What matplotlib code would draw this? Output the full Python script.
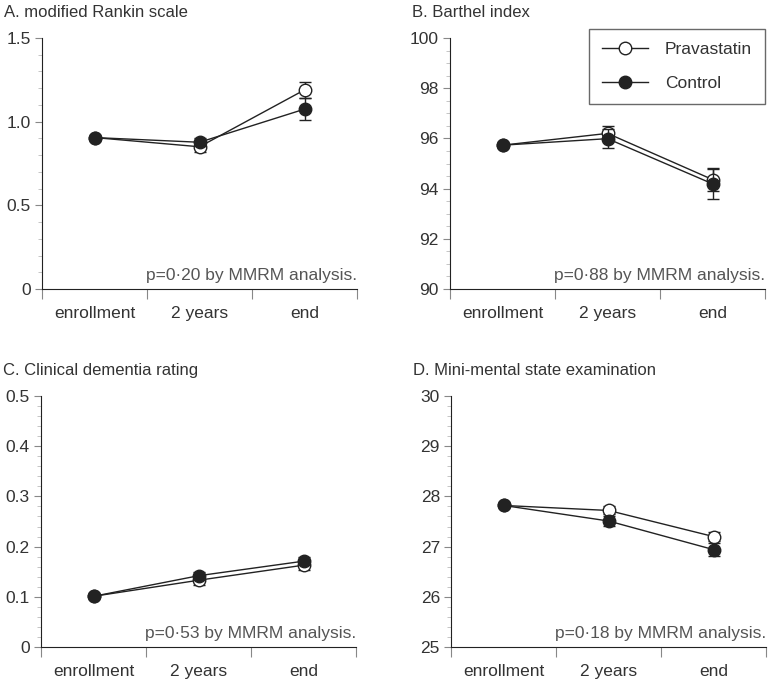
import matplotlib
matplotlib.use("Agg")
import matplotlib.pyplot as plt
from matplotlib.ticker import MultipleLocator, FixedLocator, FuncFormatter
from matplotlib.lines import Line2D

plt.rcParams['font.family'] = ['Liberation Sans', 'DejaVu Sans']

categories = ["enrollment", "2 years", "end"]

# Panel A: modified Rankin scale
mrs_prav = [0.905, 0.85, 1.19]
mrs_prav_err = [0.0, 0.03, 0.05]
mrs_ctrl = [0.905, 0.877, 1.075]
mrs_ctrl_err = [0.0, 0.025, 0.065]

# Panel B: Barthel index
bi_prav = [95.73, 96.2, 94.36]
bi_prav_err = [0.0, 0.3, 0.45]
bi_ctrl = [95.73, 95.99, 94.19]
bi_ctrl_err = [0.0, 0.38, 0.6]

# Panel C: Clinical dementia rating
cdr_prav = [0.101, 0.133, 0.163]
cdr_prav_err = [0.0, 0.01, 0.01]
cdr_ctrl = [0.101, 0.142, 0.171]
cdr_ctrl_err = [0.0, 0.008, 0.008]

# Panel D: Mini-mental state examination
mmse_prav = [27.82, 27.72, 27.2]
mmse_prav_err = [0.0, 0.08, 0.09]
mmse_ctrl = [27.82, 27.51, 26.94]
mmse_ctrl_err = [0.0, 0.09, 0.13]

titles = ["A. modified Rankin scale", "B. Barthel index",
          "C. Clinical dementia rating", "D. Mini-mental state examination"]
pvals = ["p=0·20 by MMRM analysis.", "p=0·88 by MMRM analysis.",
         "p=0·53 by MMRM analysis.", "p=0·18 by MMRM analysis."]
series_names = ["Pravastatin", "Control"]

ylims = [(0, 1.5), (90, 100), (0, 0.5), (25, 30)]
ymajor = [0.5, 2, 0.1, 1]
yminor = [0.1, 0.5, 0.02, 0.2]

def fmt_dec(v, pos):
    return "0" if abs(v) < 1e-9 else f"{v:.1f}"
def fmt_i(v, pos):
    return f"{v:.0f}"
fmts = [fmt_dec, fmt_i, fmt_dec, fmt_i]

data = [
    (mrs_prav, mrs_prav_err, mrs_ctrl, mrs_ctrl_err),
    (bi_prav, bi_prav_err, bi_ctrl, bi_ctrl_err),
    (cdr_prav, cdr_prav_err, cdr_ctrl, cdr_ctrl_err),
    (mmse_prav, mmse_prav_err, mmse_ctrl, mmse_ctrl_err),
]

fig = plt.figure(figsize=(7.71, 6.81), dpi=100)
positions = [
    [0.0545, 0.5756, 0.4086, 0.3686],
    [0.5837, 0.5756, 0.4086, 0.3686],
    [0.0532, 0.0499, 0.4086, 0.3686],
    [0.5850, 0.0499, 0.4086, 0.3686],
]
text_col = "#333333"
axis_col = "#222222"
tick_col = "#888888"
line_col = "#222222"

x = list(range(len(categories)))
for i, pos in enumerate(positions):
    ax = fig.add_axes(pos)
    p, pe, c, ce = data[i]
    ax.errorbar(x, p, yerr=pe, color=line_col, lw=1.0, marker="o", ms=9,
                mfc="white", mec=line_col, mew=1.0, capsize=4, elinewidth=1.0,
                capthick=1.0, zorder=3)
    ax.errorbar(x, c, yerr=ce, color=line_col, lw=1.0, marker="o", ms=9,
                mfc=line_col, mec=line_col, mew=1.0, capsize=4, elinewidth=1.0,
                capthick=1.0, zorder=4)
    ax.set_xlim(-0.5, 2.5)
    ax.set_ylim(*ylims[i])
    ax.spines['top'].set_visible(False)
    ax.spines['right'].set_visible(False)
    ax.spines['left'].set_color(axis_col)
    ax.spines['bottom'].set_color(axis_col)
    ax.xaxis.set_major_locator(FixedLocator([-0.5, 0.5, 1.5, 2.5]))
    ax.xaxis.set_major_formatter(FuncFormatter(lambda v, pos: ""))
    ax.xaxis.set_minor_locator(FixedLocator(x))
    ax.set_xticklabels(categories, minor=True)
    ax.tick_params(axis='x', which='major', direction='out', length=7, color=tick_col)
    ax.tick_params(axis='x', which='minor', length=0, pad=12, labelsize=12.5, labelcolor=text_col)
    ax.yaxis.set_major_locator(MultipleLocator(ymajor[i]))
    ax.yaxis.set_minor_locator(MultipleLocator(yminor[i]))
    ax.yaxis.set_major_formatter(FuncFormatter(fmts[i]))
    ax.tick_params(axis='y', which='major', direction='out', length=5, color=tick_col,
                   labelsize=12.5, labelcolor=text_col, pad=3)
    ax.tick_params(axis='y', which='minor', direction='out', length=3, color="#bbbbbb")
    ax.text(1.0, 0.025, pvals[i], transform=ax.transAxes, ha='right', va='bottom',
            fontsize=12.5, color="#555555")
    ax.text(-0.12, 1.07, titles[i], transform=ax.transAxes,
            ha='left', va='bottom', fontsize=12, color=text_col)
    if i == 1:
        handles = [
            Line2D([], [], color=line_col, lw=1.0, marker="o", ms=9, mfc="white", mec=line_col),
            Line2D([], [], color=line_col, lw=1.0, marker="o", ms=9, mfc=line_col, mec=line_col),
        ]
        leg = ax.legend(handles, series_names, loc='upper right',
                        bbox_to_anchor=(1.0, 1.035), frameon=True,
                        fancybox=False, edgecolor="#444444", fontsize=12.5,
                        handlelength=2.6, labelspacing=1.05, borderpad=0.75,
                        handletextpad=1.0, borderaxespad=0.0)
        leg.get_frame().set_linewidth(1.0)
        for t in leg.get_texts():
            t.set_color(text_col)

fig.savefig("out.png", dpi=100)
